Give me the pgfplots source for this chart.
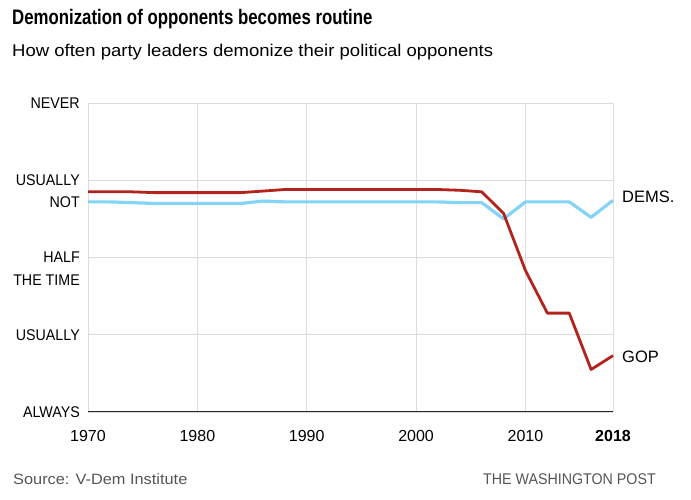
\documentclass[border=0pt]{standalone}
\usepackage{fontspec}
\setmainfont{Liberation Sans}
\newfontfamily\titlefont[FakeStretch=0.80]{Liberation Sans}
\newfontfamily\subfont[FakeStretch=1.09]{Liberation Sans}
\newfontfamily\bodyfont[FakeStretch=0.92]{Liberation Sans}
\newfontfamily\numfont{Liberation Sans}
\usepackage{pgfplots}
\pgfplotsset{compat=1.18}

\definecolor{gopred}{HTML}{B3231D}
\definecolor{demblue}{HTML}{84D4F7}
\definecolor{gridgray}{HTML}{DCDCDC}
\definecolor{txtgray}{HTML}{555555}

\pgfplotstableread{
year gop dem
1970 2.85 2.72
1972 2.85 2.72
1974 2.85 2.71
1976 2.84 2.70
1978 2.84 2.70
1980 2.84 2.70
1982 2.84 2.70
1984 2.84 2.70
1986 2.86 2.73
1988 2.88 2.72
1990 2.88 2.72
1992 2.88 2.72
1994 2.88 2.72
1996 2.88 2.72
1998 2.88 2.72
2000 2.88 2.72
2002 2.88 2.72
2004 2.87 2.71
2006 2.85 2.71
2008 2.57 2.50
2010 1.83 2.72
2012 1.28 2.72
2014 1.28 2.72
2016 0.55 2.52
2018 0.73 2.74
}\vdem

\begin{document}
\begin{tikzpicture}[x=1pt,y=1pt]
\path[use as bounding box] (-88,-88) rectangle (603,412);
\begin{axis}[
    at={(0,0)}, anchor=origin,
    scale only axis,
    width=525pt, height=309pt,
    xmin=1970, xmax=2018,
    ymin=0, ymax=4,
    xtick={1970,1980,1990,2000,2010,2018},
    xticklabels={},
    ytick={0,1,2,3,4},
    yticklabels={},
    major tick length=0pt,
    grid=major,
    major grid style={gridgray, line width=0.9pt},
    axis x line*=bottom,
    axis y line*=left,
    x axis line style={black!85, line width=1pt, -},
    y axis line style={draw=none},
    clip=false,
]
\addplot[demblue, line width=3.2pt, line join=round] table[x=year, y=dem] {\vdem};
\addplot[gopred, line width=2.8pt, line join=round] table[x=year, y=gop] {\vdem};
\end{axis}

% titles
\node[anchor=base west, inner sep=0] at (-76,387) {\titlefont\bfseries\fontsize{21}{24}\selectfont Demonization of opponents becomes routine};
\node[anchor=base west, inner sep=0] at (-76,355) {\subfont\fontsize{17}{20}\selectfont How often party leaders demonize their political opponents};

% y labels
\begin{scope}[every node/.style={anchor=east, inner sep=0, font=\bodyfont\fontsize{15.5}{18}\selectfont}]
\node at (-8,309) {NEVER};
\node at (-8,231.75) {USUALLY};
\node at (-8,210) {NOT};
\node at (-8,154.5) {HALF};
\node at (-8,132) {THE TIME};
\node at (-8,77.25) {USUALLY};
\node at (-8,0) {ALWAYS};
\end{scope}

% x labels
\begin{scope}[every node/.style={anchor=base, inner sep=0, font=\numfont\fontsize{16}{19}\selectfont}]
\node at (0,-30) {1970};
\node at (109.4,-30) {1980};
\node at (218.75,-30) {1990};
\node at (328.1,-30) {2000};
\node at (437.5,-30) {2010};
\node at (525,-30) {\bfseries 2018};
\end{scope}

% series labels
\node[anchor=west, inner sep=0, font=\numfont\fontsize{16.5}{19}\selectfont] at (534,215) {DEMS.};
\node[anchor=west, inner sep=0, font=\numfont\fontsize{16.5}{19}\selectfont] at (534,55) {GOP};

% footer
\node[anchor=base west, inner sep=0, text=txtgray, font=\subfont\fontsize{15}{18}\selectfont] at (-75,-73) {Source: V-Dem Institute};
\node[anchor=base east, inner sep=0, text=txtgray, font=\bodyfont\fontsize{15.5}{18}\selectfont] at (568,-73) {THE WASHINGTON POST};
\end{tikzpicture}
\end{document}
